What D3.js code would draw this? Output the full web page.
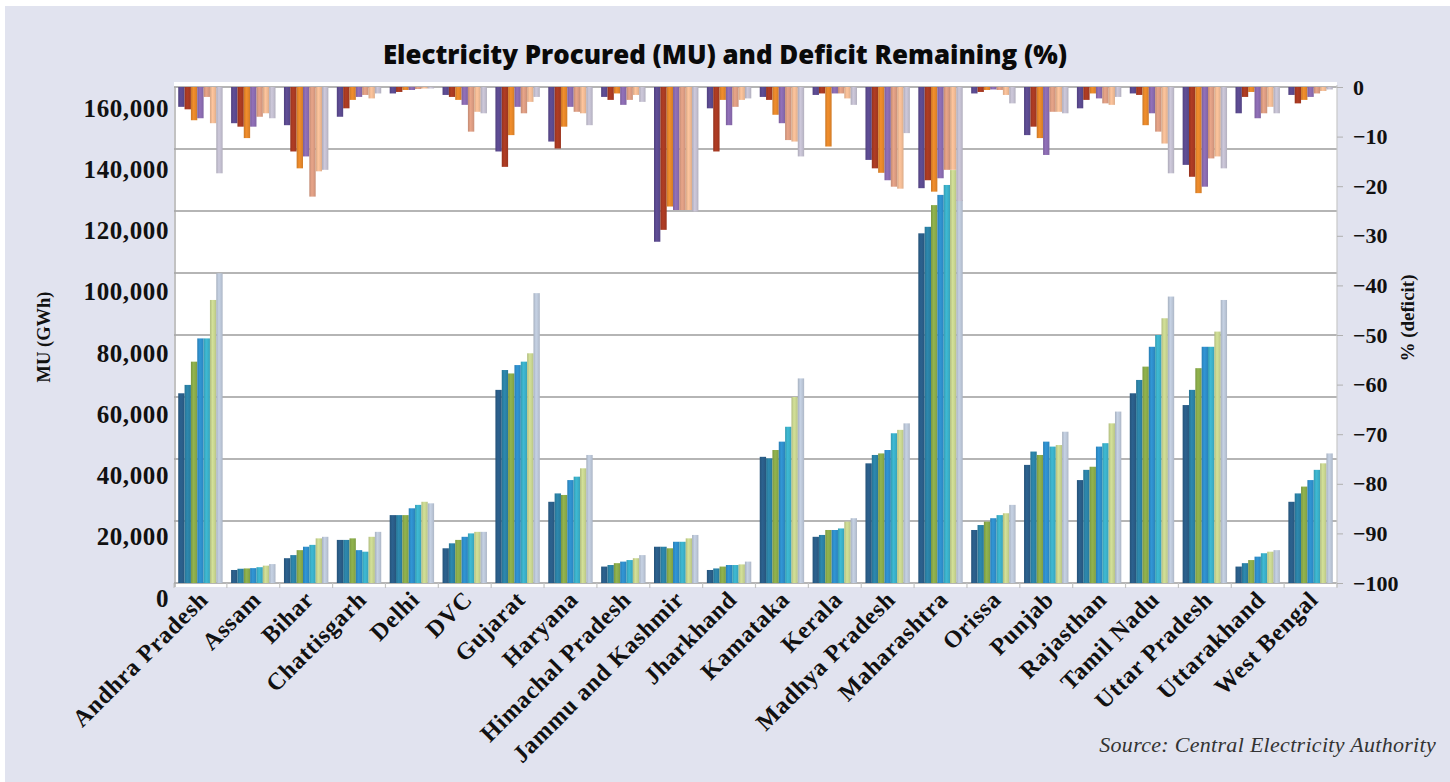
<!DOCTYPE html>
<html>
<head>
<meta charset="utf-8">
<script src="https://cdn.jsdelivr.net/npm/d3@7"></script>
<style>
  html, body { margin: 0; padding: 0; background: #ffffff; }
  svg { display: block; }
</style>
</head>
<body>
<svg id="chart" width="1450" height="782"></svg>
<script>
// ---- data -------------------------------------------------------------
const states = ["Andhra Pradesh","Assam","Bihar","Chattisgarh","Delhi","DVC","Gujarat","Haryana",
  "Himachal Pradesh","Jammu and Kashmir","Jharkhand","Kamataka","Kerala","Madhya Pradesh",
  "Maharashtra","Orissa","Punjab","Rajasthan","Tamil Nadu","Uttar Pradesh","Uttarakhand","West Bengal"];

const years = ["2004-05","2005-06","2006-07","2007-08","2008-09","2009-10","2010-11"];

// energy procured, MU (one array per state, one value per year)
const mu = [
  [61200, 63900, 71400, 78900, 78900, 91300, 99900],   // Andhra Pradesh
  [4200, 4600, 4700, 4800, 5100, 5600, 6100],           // Assam
  [8000, 9000, 10600, 11700, 12300, 14400, 14900],      // Bihar
  [13900, 13900, 14400, 10600, 10100, 14900, 16500],    // Chattisgarh
  [21900, 21900, 21900, 24100, 25200, 26200, 25700],    // Delhi
  [11200, 12800, 13900, 14900, 16000, 16500, 16500],    // DVC
  [62300, 68700, 67600, 70300, 71400, 74100, 93500],    // Gujarat
  [26200, 28900, 28400, 33200, 34300, 37000, 41300],    // Haryana
  [5300, 5800, 6400, 6900, 7400, 8000, 9000],           // Himachal Pradesh
  [11700, 11700, 11200, 13300, 13300, 14400, 15500],    // Jammu and Kashmir
  [4200, 4700, 5300, 5800, 5800, 6000, 6900],           // Jharkhand
  [40700, 40200, 42900, 45600, 50400, 60000, 66000],    // Kamataka
  [14900, 15500, 17100, 17100, 17600, 19800, 20900],    // Kerala
  [38600, 41300, 41800, 42900, 48300, 49400, 51500],    // Madhya Pradesh
  [112800, 114900, 121900, 125200, 128400, 133200, 123600], // Maharashtra
  [17100, 18700, 19800, 20900, 21900, 22500, 25200],    // Orissa
  [38100, 42400, 41300, 45600, 44000, 44500, 48800],    // Punjab
  [33200, 36500, 37500, 44000, 45100, 51500, 55300],    // Rajasthan
  [61200, 65500, 69800, 76200, 80000, 85400, 92400],    // Tamil Nadu
  [57400, 62300, 69300, 76200, 76200, 81100, 91300],    // Uttar Pradesh
  [5300, 6400, 7400, 8500, 9600, 10100, 10600],         // Uttarakhand
  [26200, 28900, 31100, 33200, 36500, 38600, 41800]     // West Bengal
];

// deficit remaining, % (negative = shortfall)
const deficit = [
  [-4.0, -4.5, -6.7, -6.3, -2.0, -7.3, -17.4],   // Andhra Pradesh
  [-7.3, -8.0, -10.3, -8.0, -6.0, -5.3, -6.3],   // Assam
  [-7.7, -13.0, -16.4, -14.0, -22.1, -17.0, -16.7], // Bihar
  [-6.0, -4.3, -2.6, -2.0, -1.6, -2.3, -1.3],    // Chattisgarh
  [-1.3, -1.0, -0.6, -0.6, -0.4, -0.3, -0.3],    // Delhi
  [-1.6, -2.0, -2.6, -3.6, -9.0, -5.0, -5.3],    // DVC
  [-13.0, -16.1, -9.7, -4.0, -5.3, -3.0, -2.0],  // Gujarat
  [-11.0, -12.4, -8.0, -4.0, -5.0, -5.3, -7.7],  // Haryana
  [-2.0, -2.6, -1.3, -3.6, -2.6, -1.6, -3.0],    // Himachal Pradesh
  [-31.2, -28.8, -24.1, -24.8, -24.8, -24.8, -25.1], // Jammu and Kashmir
  [-4.3, -13.0, -2.6, -7.7, -4.0, -2.6, -2.3],   // Jharkhand
  [-2.0, -2.6, -5.6, -7.3, -10.7, -11.0, -14.0], // Kamataka
  [-1.6, -1.3, -12.0, -1.3, -1.3, -2.3, -3.6],   // Kerala
  [-14.7, -16.4, -17.3, -18.8, -20.1, -20.5, -9.3], // Madhya Pradesh
  [-20.4, -18.8, -21.1, -18.4, -16.7, -16.7, -23.0], // Maharashtra
  [-1.3, -1.0, -0.6, -0.5, -0.6, -1.6, -3.3],    // Orissa
  [-9.7, -8.0, -10.3, -13.7, -5.0, -5.0, -5.3],  // Punjab
  [-4.3, -2.6, -1.3, -2.3, -3.3, -3.6, -2.0],    // Rajasthan
  [-1.3, -1.6, -7.7, -5.3, -9.0, -11.4, -17.4],  // Tamil Nadu
  [-15.7, -18.1, -21.4, -20.1, -14.4, -14.0, -16.4], // Uttar Pradesh
  [-5.3, -2.0, -1.0, -6.3, -5.3, -4.0, -5.3],    // Uttarakhand
  [-1.6, -3.3, -2.6, -2.0, -1.3, -0.8, -0.5]     // West Bengal
];

const muTicks = [0, 20000, 40000, 60000, 80000, 100000, 120000, 140000, 160000];
const deficitTicks = [0, -10, -20, -30, -40, -50, -60, -70, -80, -90, -100];

const muColors = ["#2a5d88", "#2b82a6", "#8aab4a", "#2e8ecb", "#3bb0c9", "#c8d590", "#bcc7d8"];
const deficitColors = ["#5b4a8f", "#a83a22", "#e5872a", "#8a6bb0", "#dc9c82", "#f1bb95", "#c3bfd0"];

// ---- layout -----------------------------------------------------------
const svg = d3.select("#chart");
const plot = { left: 174, right: 1337, top: 87, bottom: 583 };

// panel background
svg.append("rect").attr("x", 5).attr("y", 6).attr("width", 1445).attr("height", 776)
  .attr("fill", "#e1e3ef");

// white plot area
svg.append("rect")
  .attr("x", plot.left).attr("y", 82)
  .attr("width", plot.right - plot.left).attr("height", 587 - 82)
  .attr("fill", "#ffffff");

// scales
const x = d3.scaleBand().domain(states).range([plot.left, plot.right])
  .paddingInner(0.16).paddingOuter(0.08);
const xs = d3.scaleBand().domain(years).range([0, x.bandwidth()]);
const y = d3.scaleLinear().domain([0, 160000]).range([plot.bottom, plot.top]);
const yLabel = d3.scaleLinear().domain([0, 160000]).range([598, 108]);
const yR = d3.scaleLinear().domain([0, -100]).range([plot.top, plot.bottom]);

// per-series horizontal shading
const defs = svg.append("defs");
function shade(id, c) {
  const g = defs.append("linearGradient").attr("id", id)
    .attr("x1", "0%").attr("x2", "100%").attr("y1", "0%").attr("y2", "0%");
  const base = d3.color(c);
  g.append("stop").attr("offset", "0%").attr("stop-color", base.darker(0.35));
  g.append("stop").attr("offset", "40%").attr("stop-color", base.brighter(0.15));
  g.append("stop").attr("offset", "70%").attr("stop-color", base);
  g.append("stop").attr("offset", "100%").attr("stop-color", base.darker(0.25));
}
muColors.forEach((c, i) => shade("mu" + i, c));
deficitColors.forEach((c, i) => shade("df" + i, c));

// gridlines
svg.append("g")
  .selectAll("line").data(muTicks).join("line")
  .attr("x1", plot.left).attr("x2", plot.right)
  .attr("y1", d => y(d)).attr("y2", d => y(d))
  .attr("stroke", "#9c9c9c").attr("stroke-width", 1.6);

// category separators on the base line
svg.append("g")
  .selectAll("line").data(d3.range(states.length + 1)).join("line")
  .attr("x1", i => plot.left + i * x.step()).attr("x2", i => plot.left + i * x.step())
  .attr("y1", plot.bottom).attr("y2", plot.bottom + 5)
  .attr("stroke", "#c4c4c4").attr("stroke-width", 1.2);

// left and right axis lines
svg.append("line").attr("x1", plot.left + 1).attr("x2", plot.left + 1)
  .attr("y1", plot.top).attr("y2", plot.bottom + 4)
  .attr("stroke", "#a8a8a8").attr("stroke-width", 1.4);
svg.append("line").attr("x1", plot.right).attr("x2", plot.right)
  .attr("y1", plot.top - 2).attr("y2", plot.bottom + 4)
  .attr("stroke", "#c8c8c8").attr("stroke-width", 1.2);

// MU bars, rising from the base
const rows = states.map((s, i) => ({ state: s, mu: mu[i], deficit: deficit[i] }));
const muGroups = svg.append("g").selectAll("g").data(rows).join("g")
  .attr("transform", d => `translate(${x(d.state)},0)`);
muGroups.selectAll("rect")
  .data(d => d.mu.map((v, k) => ({ year: years[k], k, v })))
  .join("rect")
  .attr("x", d => xs(d.year))
  .attr("width", xs.bandwidth())
  .attr("y", d => y(d.v))
  .attr("height", d => y(0) - y(d.v))
  .attr("fill", d => `url(#mu${d.k})`);

// deficit bars, hanging from the top
const dfGroups = svg.append("g").selectAll("g").data(rows).join("g")
  .attr("transform", d => `translate(${x(d.state)},0)`);
dfGroups.selectAll("rect")
  .data(d => d.deficit.map((v, k) => ({ year: years[k], k, v })))
  .join("rect")
  .attr("x", d => xs(d.year))
  .attr("width", xs.bandwidth())
  .attr("y", yR(0))
  .attr("height", d => yR(d.v) - yR(0))
  .attr("fill", d => `url(#df${d.k})`);

// ---- axes -------------------------------------------------------------
const serif = "'Liberation Serif', 'Times New Roman', serif";

const leftAxis = svg.append("g")
  .attr("transform", `translate(${plot.left - 5},0)`)
  .call(d3.axisLeft(yLabel).tickValues(muTicks).tickSize(0).tickPadding(0)
    .tickFormat(d3.format(",")));
leftAxis.select(".domain").remove();
leftAxis.selectAll("text")
  .attr("font-family", serif).attr("font-weight", 700).attr("font-size", 25)
  .attr("letter-spacing", 0.6)
  .attr("fill", "#111");

const rightAxis = svg.append("g")
  .attr("transform", `translate(${plot.right},0)`)
  .call(d3.axisRight(yR).tickValues(deficitTicks).tickSize(6).tickPadding(10)
    .tickFormat(d3.format("d")));
rightAxis.select(".domain").remove();
rightAxis.selectAll("line").attr("stroke", "#b0b0b0");
rightAxis.selectAll("text")
  .attr("font-family", serif).attr("font-weight", 700).attr("font-size", 22)
  .attr("fill", "#111");

const bottomAxis = svg.append("g")
  .attr("transform", `translate(0,${plot.bottom})`)
  .call(d3.axisBottom(x).tickSize(0).tickPadding(0));
bottomAxis.select(".domain").remove();
bottomAxis.selectAll("text")
  .attr("font-family", serif).attr("font-weight", 700).attr("font-size", 24)
  .attr("letter-spacing", 0.7)
  .attr("fill", "#111")
  .attr("text-anchor", "end")
  .attr("dy", 0)
  .attr("transform", "translate(9,18) rotate(-45)");

// axis titles
svg.append("text")
  .attr("transform", "translate(50,337) rotate(-90)")
  .attr("text-anchor", "middle")
  .attr("font-family", serif).attr("font-weight", 700).attr("font-size", 18.5)
  .attr("fill", "#111")
  .text("MU (GWh)");
svg.append("text")
  .attr("transform", "translate(1414,318) rotate(-90)")
  .attr("text-anchor", "middle")
  .attr("font-family", serif).attr("font-weight", 700).attr("font-size", 19)
  .attr("fill", "#111")
  .text("% (deficit)");

// title
svg.append("text")
  .attr("x", 725).attr("y", 64)
  .attr("text-anchor", "middle")
  .attr("font-family", "'Open Sans', 'Noto Sans', sans-serif").attr("font-weight", 800)
  .attr("font-size", 25.9).attr("fill", "#0a0a0a")
  .text("Electricity Procured (MU) and Deficit Remaining (%)");

// source note
svg.append("text")
  .attr("x", 1436).attr("y", 752)
  .attr("text-anchor", "end")
  .attr("font-family", serif).attr("font-style", "italic")
  .attr("font-size", 22).attr("letter-spacing", 0.3).attr("fill", "#333")
  .text("Source: Central Electricity Authority");
</script>
</body>
</html>
